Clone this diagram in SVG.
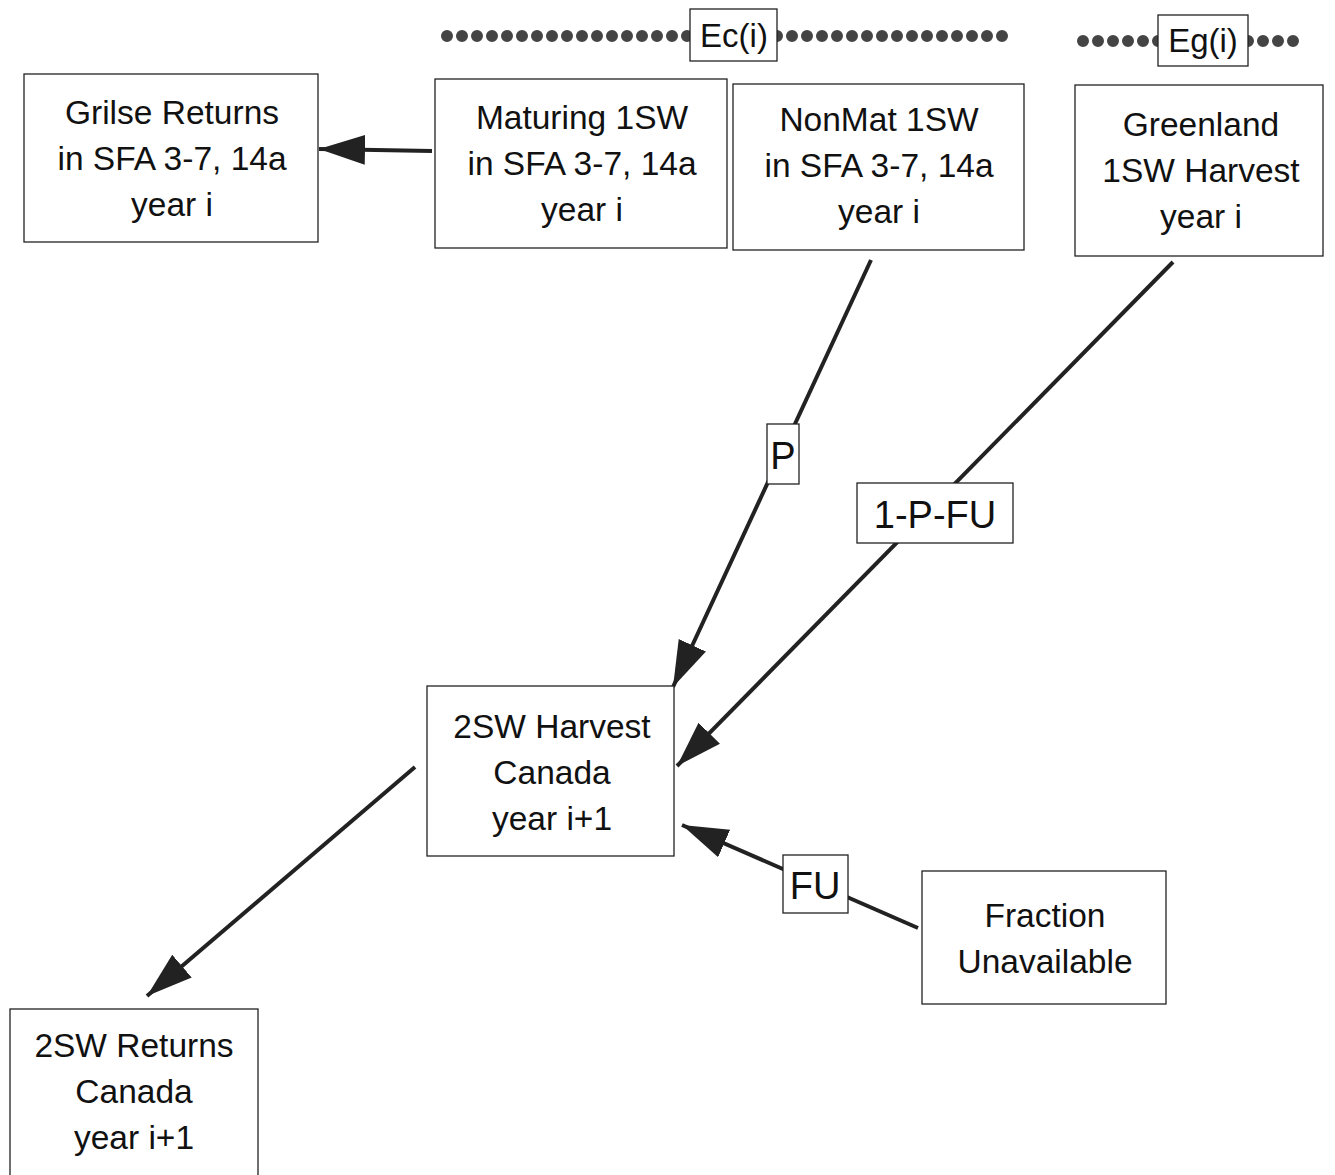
<svg xmlns="http://www.w3.org/2000/svg" width="1335" height="1175" viewBox="0 0 1335 1175">
<defs>
<style>
.box{fill:#fff;stroke:#222;stroke-width:1.3}
.t{font-family:"Liberation Sans",Arial,sans-serif;font-size:33.5px;fill:#111;text-anchor:middle}
.lt{font-family:"Liberation Sans",Arial,sans-serif;font-size:38px;fill:#111;text-anchor:middle}
.et{font-family:"Liberation Sans",Arial,sans-serif;font-size:33px;fill:#111;text-anchor:middle}
.c{stroke:#222;stroke-width:4;fill:none}
.dots{stroke:#444;stroke-width:12;stroke-linecap:round;stroke-dasharray:0 15;fill:none}
</style>
<marker id="ah" markerUnits="userSpaceOnUse" markerWidth="48" markerHeight="34" viewBox="0 0 48 34" refX="46" refY="17" orient="auto">
<path d="M0,2 L46,17 L0,32 Z" fill="#222"/>
</marker>
</defs>
<g id="dotted-lines">
<path class="dots" d="M447,36 L1010,36"/>
<path class="dots" d="M1083,41 L1305,41"/>
</g>
<g id="connectors">
<line class="c" x1="432" y1="151" x2="319" y2="149" marker-end="url(#ah)"/>
<line class="c" x1="871" y1="260" x2="673" y2="687" marker-end="url(#ah)"/>
<line class="c" x1="1173" y1="262" x2="677" y2="766" marker-end="url(#ah)"/>
<line class="c" x1="918" y1="928" x2="682" y2="825" marker-end="url(#ah)"/>
<line class="c" x1="415" y1="767" x2="147" y2="996" marker-end="url(#ah)"/>
</g>
<g id="label-Ec">
<rect class="box" x="690" y="9" width="87" height="52"/>
<text class="et" x="734" y="47">Ec(i)</text>
</g>
<g id="label-Eg">
<rect class="box" x="1158" y="15" width="90" height="51"/>
<text class="et" x="1203" y="52">Eg(i)</text>
</g>
<g id="grilse">
<rect class="box" x="24" y="74" width="294" height="168"/>
<text class="t" x="172" y="124">Grilse Returns</text>
<text class="t" x="172" y="170">in SFA 3-7, 14a</text>
<text class="t" x="172" y="216">year i</text>
</g>
<g id="maturing">
<rect class="box" x="435" y="79" width="292" height="169"/>
<text class="t" x="582" y="129">Maturing 1SW</text>
<text class="t" x="582" y="175">in SFA 3-7, 14a</text>
<text class="t" x="582" y="221">year i</text>
</g>
<g id="nonmat">
<rect class="box" x="733" y="84" width="291" height="166"/>
<text class="t" x="879" y="131">NonMat 1SW</text>
<text class="t" x="879" y="177">in SFA 3-7, 14a</text>
<text class="t" x="879" y="223">year i</text>
</g>
<g id="greenland">
<rect class="box" x="1075" y="85" width="248" height="171"/>
<text class="t" x="1201" y="136">Greenland</text>
<text class="t" x="1201" y="182">1SW Harvest</text>
<text class="t" x="1201" y="228">year i</text>
</g>
<g id="harvest2sw">
<rect class="box" x="427" y="686" width="247" height="170"/>
<text class="t" x="552" y="738">2SW Harvest</text>
<text class="t" x="552" y="784">Canada</text>
<text class="t" x="552" y="830">year i+1</text>
</g>
<g id="fraction">
<rect class="box" x="922" y="871" width="244" height="133"/>
<text class="t" x="1045" y="927">Fraction</text>
<text class="t" x="1045" y="973">Unavailable</text>
</g>
<g id="returns2sw">
<rect class="box" x="10" y="1009" width="248" height="170"/>
<text class="t" x="134" y="1057">2SW Returns</text>
<text class="t" x="134" y="1103">Canada</text>
<text class="t" x="134" y="1149">year i+1</text>
</g>
<g id="label-P">
<rect class="box" x="767" y="424" width="32" height="60"/>
<text class="lt" x="783" y="469">P</text>
</g>
<g id="label-1PFU">
<rect class="box" x="857" y="483" width="156" height="60"/>
<text class="lt" x="935" y="528">1-P-FU</text>
</g>
<g id="label-FU">
<rect class="box" x="783" y="855" width="65" height="58"/>
<text class="lt" x="815" y="899">FU</text>
</g>
</svg>
